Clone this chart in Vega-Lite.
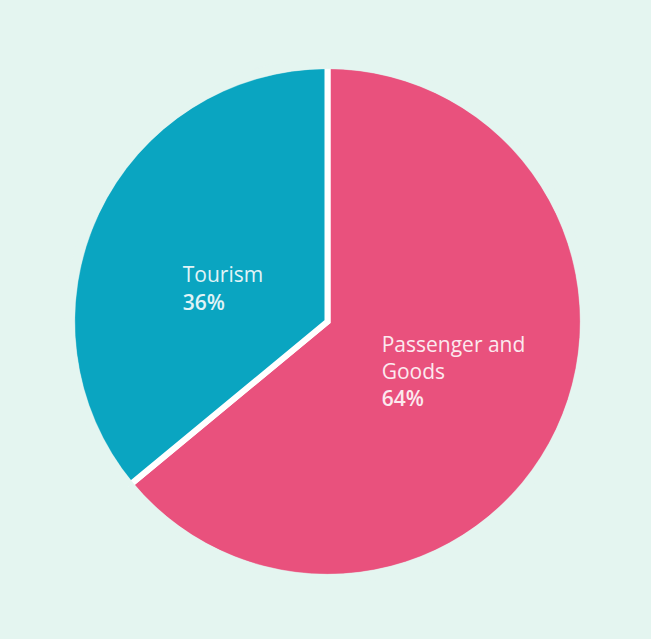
{
  "$schema": "https://vega.github.io/schema/vega-lite/v6.json",
  "autosize": {"type": "fit", "contains": "padding"},
  "width": 651,
  "height": 639,
  "padding": {"left": 4, "top": 4, "right": 0, "bottom": 0},
  "background": "#e4f5f0",
  "config": {"view": {"stroke": null}},
  "data": {
    "values": [
      {"category": "Passenger and\nGoods", "share": 0.64},
      {"category": "Tourism", "share": 0.36}
    ]
  },
  "encoding": {
    "theta": {"field": "share", "type": "quantitative", "stack": true},
    "order": {"field": "category", "sort": "ascending"}
  },
  "layer": [
    {
      "mark": {"type": "arc", "outerRadius": 256, "stroke": "#ffffff", "strokeWidth": 6, "strokeJoin": "miter"},
      "encoding": {
        "color": {
          "field": "category",
          "type": "nominal",
          "scale": {"domain": ["Passenger and\nGoods", "Tourism"], "range": ["#e9517d", "#0aa5c1"]},
          "legend": null
        }
      }
    },
    {
      "mark": {"type": "arc", "innerRadius": 252.8, "outerRadius": 263, "fill": "#e4f5f0", "stroke": "#e4f5f0", "strokeWidth": 0.5}
    },
    {
      "mark": {"type": "text", "radius": 150, "align": "left", "baseline": "alphabetic", "dx": -9, "dy": 24, "font": "Open Sans", "fontSize": 21, "color": "#ffffff", "lineBreak": "\n", "lineHeight": 27.5},
      "encoding": {
        "text": {"field": "category"},
        "opacity": {"condition": {"test": "datum.category === 'Tourism'", "value": 0.88}, "value": 0}
      }
    },
    {
      "mark": {"type": "text", "radius": 150, "align": "left", "baseline": "alphabetic", "dx": -9, "dy": 52, "font": "Open Sans", "fontSize": 21, "fontWeight": 600, "color": "#ffffff"},
      "encoding": {
        "text": {"field": "share", "type": "quantitative", "format": ".0%"},
        "opacity": {"condition": {"test": "datum.category === 'Tourism'", "value": 0.88}, "value": 0}
      }
    },
    {
      "mark": {"type": "text", "radius": 150, "align": "left", "baseline": "alphabetic", "dx": -81.5, "dy": -33.7, "font": "Open Sans", "fontSize": 21, "color": "#ffffff", "lineBreak": "\n", "lineHeight": 27.5},
      "encoding": {
        "text": {"field": "category"},
        "opacity": {"condition": {"test": "datum.category !== 'Tourism'", "value": 0.88}, "value": 0}
      }
    },
    {
      "mark": {"type": "text", "radius": 150, "align": "left", "baseline": "alphabetic", "dx": -81.5, "dy": 20.6, "font": "Open Sans", "fontSize": 21, "fontWeight": 600, "color": "#ffffff"},
      "encoding": {
        "text": {"field": "share", "type": "quantitative", "format": ".0%"},
        "opacity": {"condition": {"test": "datum.category !== 'Tourism'", "value": 0.88}, "value": 0}
      }
    }
  ]
}
